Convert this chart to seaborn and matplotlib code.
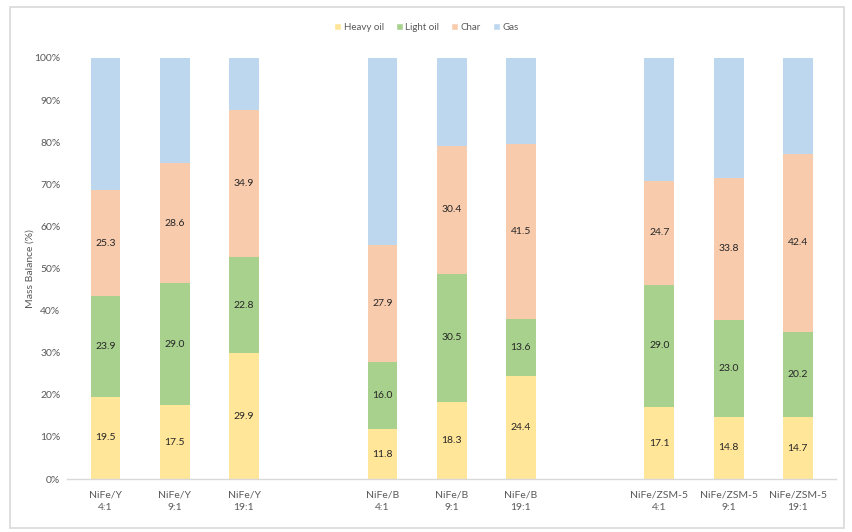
import numpy as np
import pandas as pd
import matplotlib.pyplot as plt
import seaborn as sns
from matplotlib.patches import Patch, Rectangle

# values (wt%)
samples = ['NiFe/Y\n4:1', 'NiFe/Y\n9:1', 'NiFe/Y\n19:1',
           'NiFe/B\n4:1', 'NiFe/B\n9:1', 'NiFe/B\n19:1',
           'NiFe/ZSM-5\n4:1', 'NiFe/ZSM-5\n9:1', 'NiFe/ZSM-5\n19:1']
slot = [0, 1, 2, 4, 5, 6, 8, 9, 10]
heavy_oil = [19.5, 17.5, 29.9, 11.8, 18.3, 24.4, 17.1, 14.8, 14.7]
light_oil = [23.9, 29.0, 22.8, 16.0, 30.5, 13.6, 29.0, 23.0, 20.2]
char = [25.3, 28.6, 34.9, 27.9, 30.4, 41.5, 24.7, 33.8, 42.4]
gas = [31.3, 24.9, 12.4, 44.3, 20.8, 20.5, 29.2, 28.4, 22.7]

series = ['Heavy oil', 'Light oil', 'Char', 'Gas']
colors = ['#FFE699', '#A9D18E', '#F8CBAD', '#BDD7EE']

df = pd.DataFrame({'pos': slot, 'Heavy oil': heavy_oil, 'Light oil': light_oil,
                   'Char': char, 'Gas': gas})
cum = df[series].cumsum(axis=1)

sns.set_style('white')
plt.rcParams['font.family'] = ['Lato', 'DejaVu Sans']

fig = plt.figure(figsize=(8.53, 5.32), dpi=100)
ax = fig.add_axes([0.079, 0.0996, 0.901, 0.7914])

# draw from the top of the stack down so each layer covers the one above
for name, col in zip(series[::-1], colors[::-1]):
    sns.barplot(x=df['pos'], y=cum[name], color=col, width=0.43,
                native_scale=True, saturation=1, ax=ax, linewidth=0)

# segment labels (gas not labelled)
for name in series[:3]:
    for i, p in enumerate(slot):
        top = cum[name][i]
        v = df[name][i]
        ax.text(p, top - v / 2, f'{v:.1f}', ha='center', va='center',
                fontsize=7.5, color='#262626')

ax.set_xlim(-0.55, 10.55)
ax.set_ylim(0, 100)
ax.set_yticks(np.arange(0, 101, 10))
ax.set_yticklabels([f'{t}%' for t in range(0, 101, 10)])
ax.set_xticks(slot)
ax.set_xticklabels(samples, linespacing=1.5)
ax.tick_params(axis='both', labelsize=7.5, colors='#595959', length=0)
ax.tick_params(axis='x', pad=8)
ax.tick_params(axis='y', pad=5)
ax.set_xlabel('')
ax.set_ylabel('Mass Balance (%)', fontsize=7.5, color='#595959', labelpad=0)

for s in ['top', 'right', 'left']:
    ax.spines[s].set_visible(False)
ax.spines['bottom'].set_color('#d9d9d9')
ax.spines['bottom'].set_linewidth(1)

handles = [Patch(facecolor=c, label=n) for n, c in zip(series, colors)]
fig.legend(handles=handles, loc='center', bbox_to_anchor=(0.5, 0.948), ncol=4,
           frameon=False, fontsize=7, handlelength=0.7, handleheight=0.7,
           handletextpad=0.3, columnspacing=1.2, labelcolor='#595959')

# chart-area frame
fig.patches.append(Rectangle((0.012, 0.008), 0.978, 0.979, transform=fig.transFigure,
                             fill=False, edgecolor='#d9d9d9', linewidth=1.2))

fig.savefig('out.png', dpi=100)
